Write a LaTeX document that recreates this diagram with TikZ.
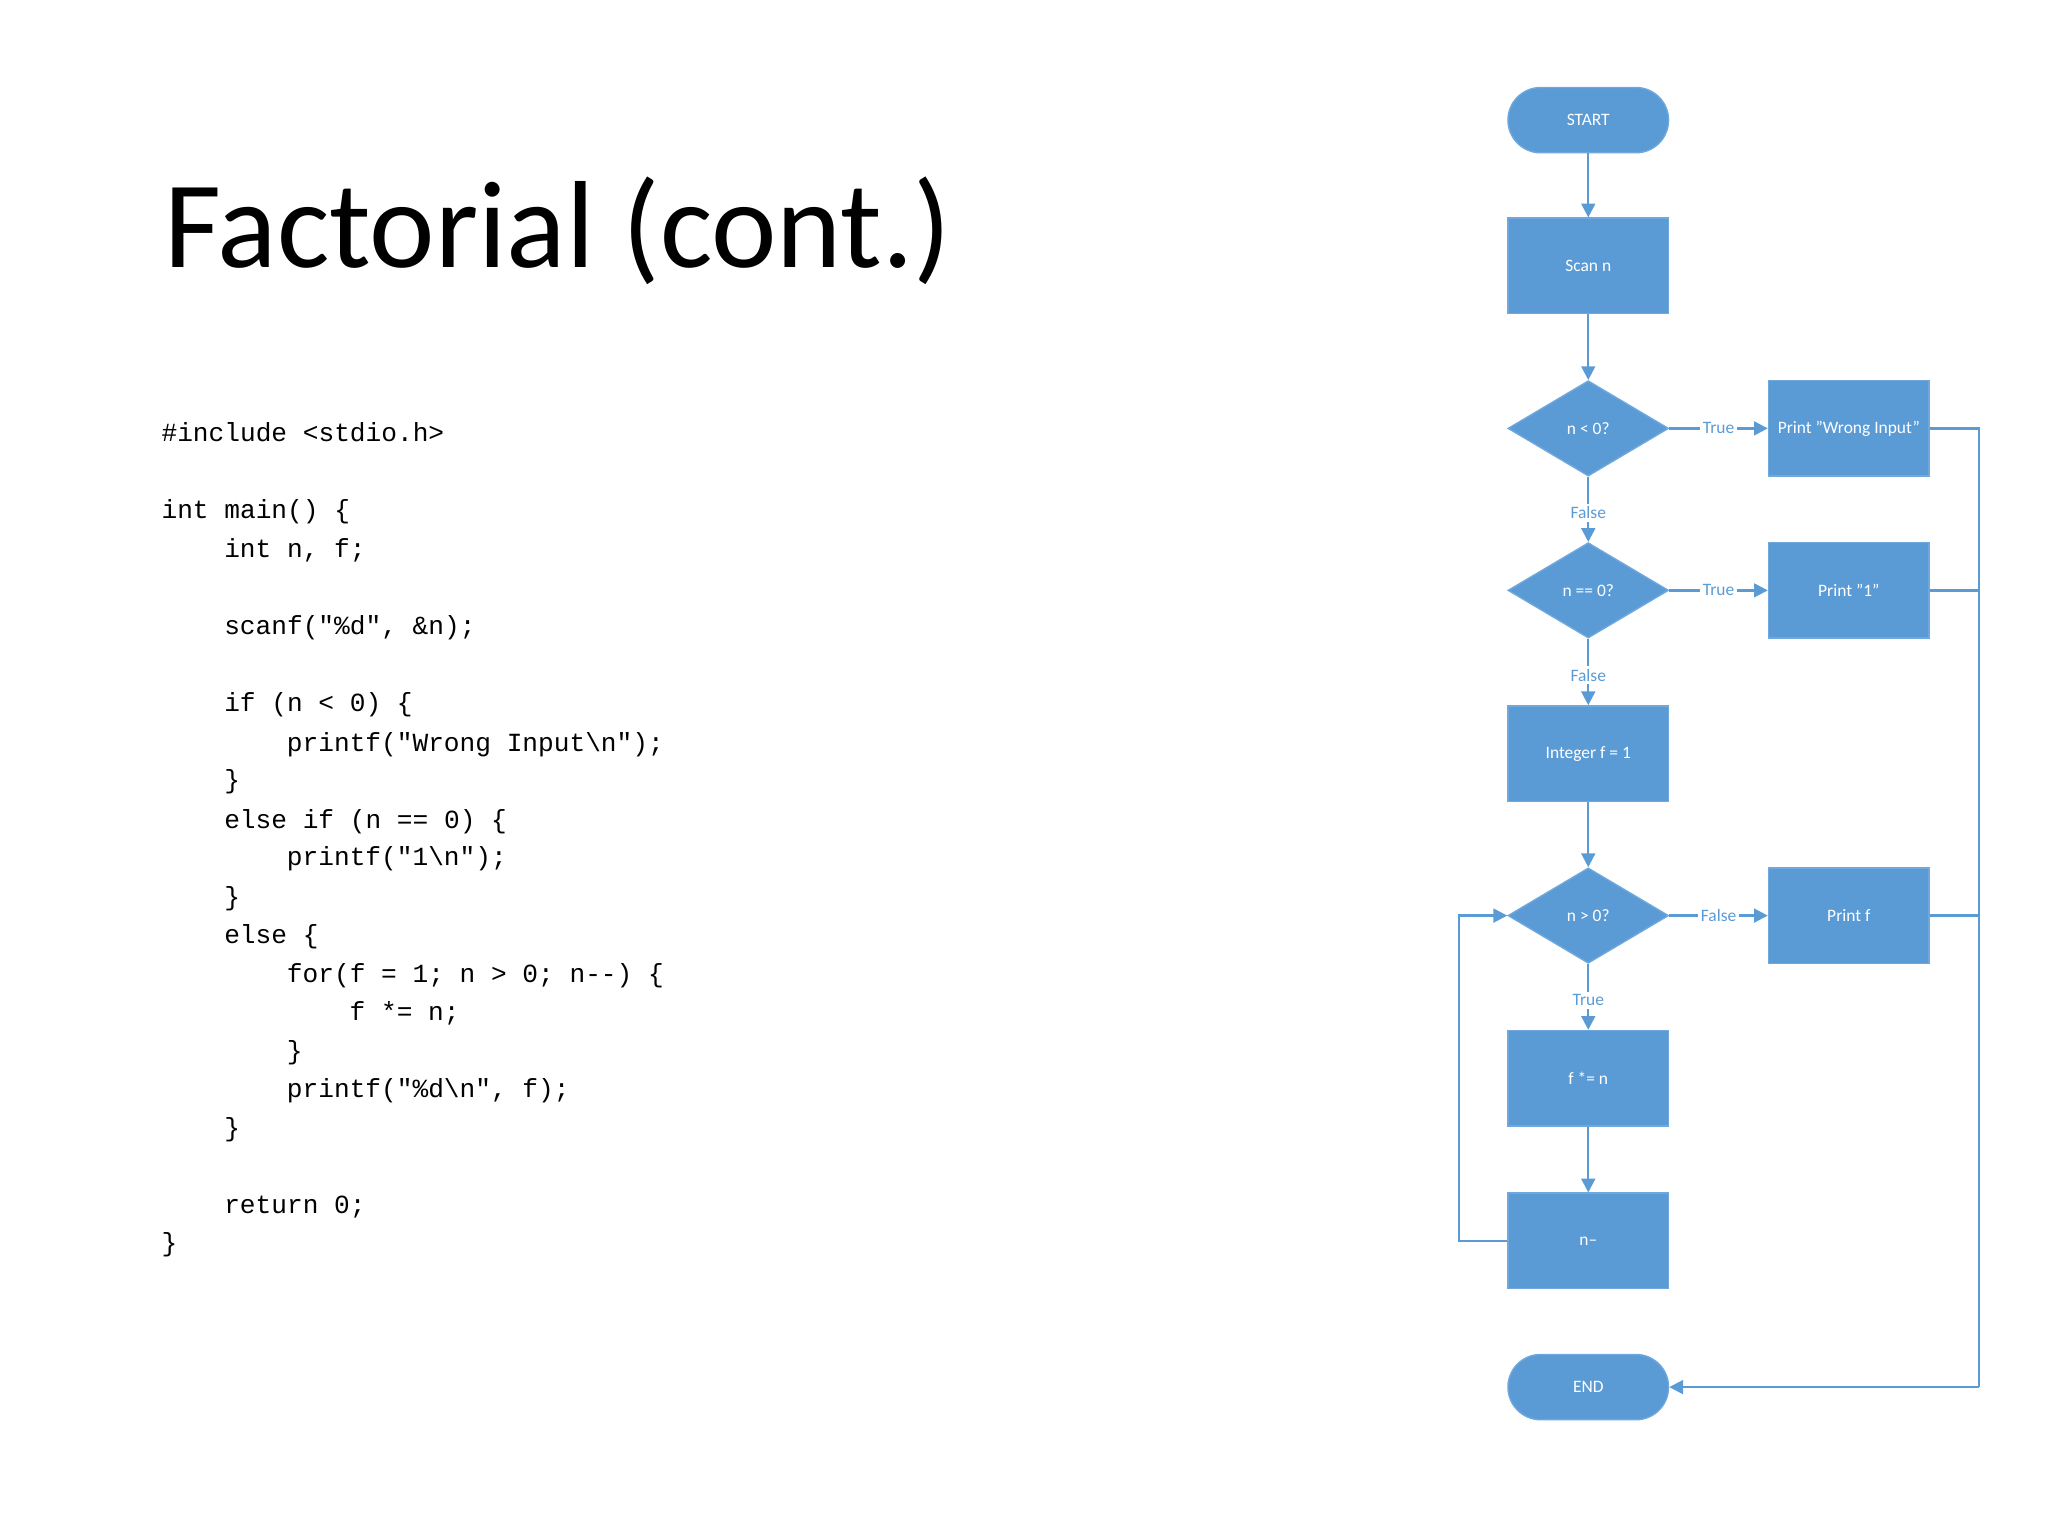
\documentclass[tikz,border=0pt]{standalone}
\usepackage{fontspec}
\setmainfont{Carlito}
\newfontfamily\codefont{Liberation Mono}
\usetikzlibrary{shapes.geometric,arrows.meta}
\definecolor{fc}{HTML}{5B9BD5}
\definecolor{bc}{HTML}{6FA8DC}
\begin{document}
\begin{tikzpicture}[
  every node/.style={font=\fontsize{3.8pt}{4.5pt}\selectfont},
  base/.style={fill=fc,draw=bc,line width=0.3pt,text=white,minimum width=1.23cm,inner sep=0pt},
  box/.style={base,rectangle,minimum height=0.73cm},
  dia/.style={base,diamond,minimum height=0.73cm},
  term/.style={base,rectangle,rounded corners=0.25cm,minimum height=0.5cm},
  conn/.style={draw=fc,line width=0.5pt},
  arr/.style={conn,-{Triangle[length=3pt,width=3pt]}},
  lab/.style={fill=white,text=fc,inner sep=0.6pt,font=\fontsize{3.8pt}{4.5pt}\selectfont},
  code/.style={anchor=base west,inner sep=0pt,font=\codefont\fontsize{5.7pt}{6pt}\selectfont}
]
\useasboundingbox (0,0) rectangle (15.68,-11.76);
\node[anchor=base west,inner sep=0pt,font=\fontsize{27pt}{30pt}\selectfont] (title) at (1.25,-2.05) {Factorial (cont.)};
\foreach \n/\y/\x/\t in {
 c1/3.38/1.23/{\#include <stdio.h>},
 c2/3.97/1.23/{int main() \{},
 c3/4.27/1.71/{int n, f;},
 c4/4.86/1.71/{scanf("\%d", \&n);},
 c5/5.45/1.71/{if (n < 0) \{},
 c6/5.75/2.19/{printf("Wrong Input\textbackslash n");},
 c7/6.04/1.71/{\}},
 c8/6.34/1.71/{else if (n == 0) \{},
 c9/6.63/2.19/{printf("1\textbackslash n");},
 c10/6.93/1.71/{\}},
 c11/7.22/1.71/{else \{},
 c12/7.52/2.19/{for(f = 1; n > 0; n-{}-) \{},
 c13/7.81/2.67/{f *= n;},
 c14/8.11/2.19/{\}},
 c15/8.40/2.19/{printf("\%d\textbackslash n", f);},
 c16/8.70/1.71/{\}},
 c17/9.29/1.71/{return 0;},
 c18/9.58/1.23/{\}}}
 \node[code] (\n) at (\x,-\y) {\t};

\node[term] (start) at (12.16,-0.92) {START};
\node[box] (scan) at (12.16,-2.035) {Scan n};
\node[dia] (d1) at (12.16,-3.28) {n < 0?};
\node[box] (pw) at (14.155,-3.28) {Print "Wrong Input"};
\node[dia] (d2) at (12.16,-4.52) {n == 0?};
\node[box] (p1) at (14.155,-4.52) {Print "1"};
\node[box] (init) at (12.16,-5.77) {Integer f = 1};
\node[dia] (d3) at (12.16,-7.01) {n > 0?};
\node[box] (pf) at (14.155,-7.01) {Print f};
\node[box] (mul) at (12.16,-8.255) {f *= n};
\node[box] (dec) at (12.16,-9.50) {n--};
\node[term] (end) at (12.16,-10.62) {END};
\coordinate (r) at (15.15,-10.62);
\coordinate (l) at (11.17,-7.01);

\draw[arr] (start) -- (scan);
\draw[arr] (scan) -- (d1);
\draw[arr] (d1) -- node[lab,pos=0.55]{False} (d2);
\draw[arr] (d2) -- node[lab,pos=0.55]{False} (init);
\draw[arr] (init) -- (d3);
\draw[arr] (d3) -- node[lab,pos=0.55]{True} (mul);
\draw[arr] (mul) -- (dec);
\draw[arr] (d1) -- node[lab,pos=0.5]{True} (pw);
\draw[arr] (d2) -- node[lab,pos=0.5]{True} (p1);
\draw[arr] (d3) -- node[lab,pos=0.5]{False} (pf);
\draw[conn] (pw.east) -| (r);
\draw[conn] (p1.east) -- (p1.east -| r);
\draw[conn] (pf.east) -- (pf.east -| r);
\draw[arr] (r) -- (end);
\draw[arr] (dec.west) -| (l) -- (d3.west);
\end{tikzpicture}
\end{document}
